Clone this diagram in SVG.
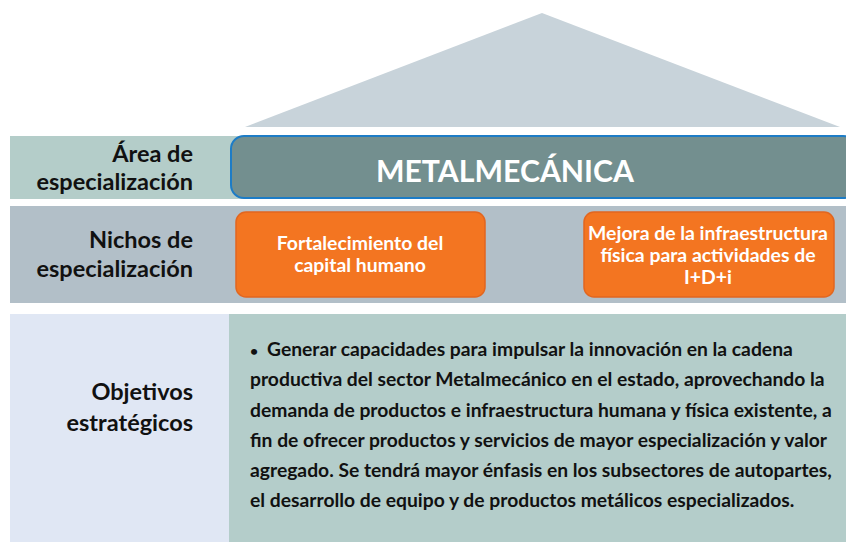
<svg xmlns="http://www.w3.org/2000/svg" width="846" height="542" viewBox="0 0 846 542">
<style>
.lbl{font-family:Lato,"Open Sans","Liberation Sans",sans-serif;font-weight:bold;font-size:23.5px;fill:#111;text-anchor:end}
.nt{font-family:Lato,"Open Sans","Liberation Sans",sans-serif;font-weight:bold;font-size:19.4px;fill:#fff;text-anchor:middle}
.par{font-family:Lato,"Open Sans","Liberation Sans",sans-serif;font-weight:bold;font-size:19.3px;fill:#111}
.orange{fill:#f37521;stroke:#e2661f;stroke-width:1.5}
</style>
<rect width="846" height="542" fill="#fff"/>
<g id="roof"><polygon points="542,13 840,127 245,127" fill="#c8d3da"/></g>
<g id="row-area">
<rect x="10" y="136" width="836" height="63" fill="#b4cdc9"/>
<text class="lbl" x="193" y="162">Área de</text>
<text class="lbl" x="193" y="190">especialización</text>
</g>
<g id="area-box">
<rect x="231" y="136" width="625" height="62" rx="13" fill="#738f8f" stroke="#1d7cc6" stroke-width="2"/>
<text x="505" y="182" font-family="Lato,'Open Sans','Liberation Sans',sans-serif" font-weight="bold" font-size="30.2" fill="#fff" text-anchor="middle">METALMECÁNICA</text>
</g>
<g id="row-nichos">
<rect x="10" y="206" width="836" height="97" fill="#b2bfc8"/>
<text class="lbl" x="193" y="248">Nichos de</text>
<text class="lbl" x="193" y="277">especialización</text>
</g>
<g id="nicho-1">
<rect class="orange" x="236" y="212" width="249" height="85" rx="10"/>
<text class="nt" x="360" y="250">Fortalecimiento del</text>
<text class="nt" x="360" y="272">capital humano</text>
</g>
<g id="nicho-2">
<rect class="orange" x="584" y="212" width="250" height="85" rx="10"/>
<text class="nt" x="708" y="240">Mejora de la infraestructura</text>
<text class="nt" x="708" y="262">física para actividades de</text>
<text class="nt" x="708" y="284">I+D+i</text>
</g>
<g id="row-objetivos">
<rect x="10" y="314" width="219" height="228" fill="#e0e7f4"/>
<text class="lbl" x="193" y="400">Objetivos</text>
<text class="lbl" x="193" y="431">estratégicos</text>
</g>
<g id="objetivos-box">
<rect x="229" y="314" width="617" height="228" fill="#b4cdca"/>
<text class="par" x="250" y="356"><tspan font-size="14">•</tspan><tspan x="267">Generar capacidades para impulsar la innovación en la cadena</tspan></text>
<text class="par" x="250" y="386">productiva del sector Metalmecánico en el estado, aprovechando la</text>
<text class="par" x="250" y="416.5">demanda de productos e infraestructura humana y física existente, a</text>
<text class="par" x="250" y="446.5">fin de ofrecer productos y servicios de mayor especialización y valor</text>
<text class="par" x="250" y="476.5">agregado. Se tendrá mayor énfasis en los subsectores de autopartes,</text>
<text class="par" x="250" y="507">el desarrollo de equipo y de productos metálicos especializados.</text>
</g>
</svg>
